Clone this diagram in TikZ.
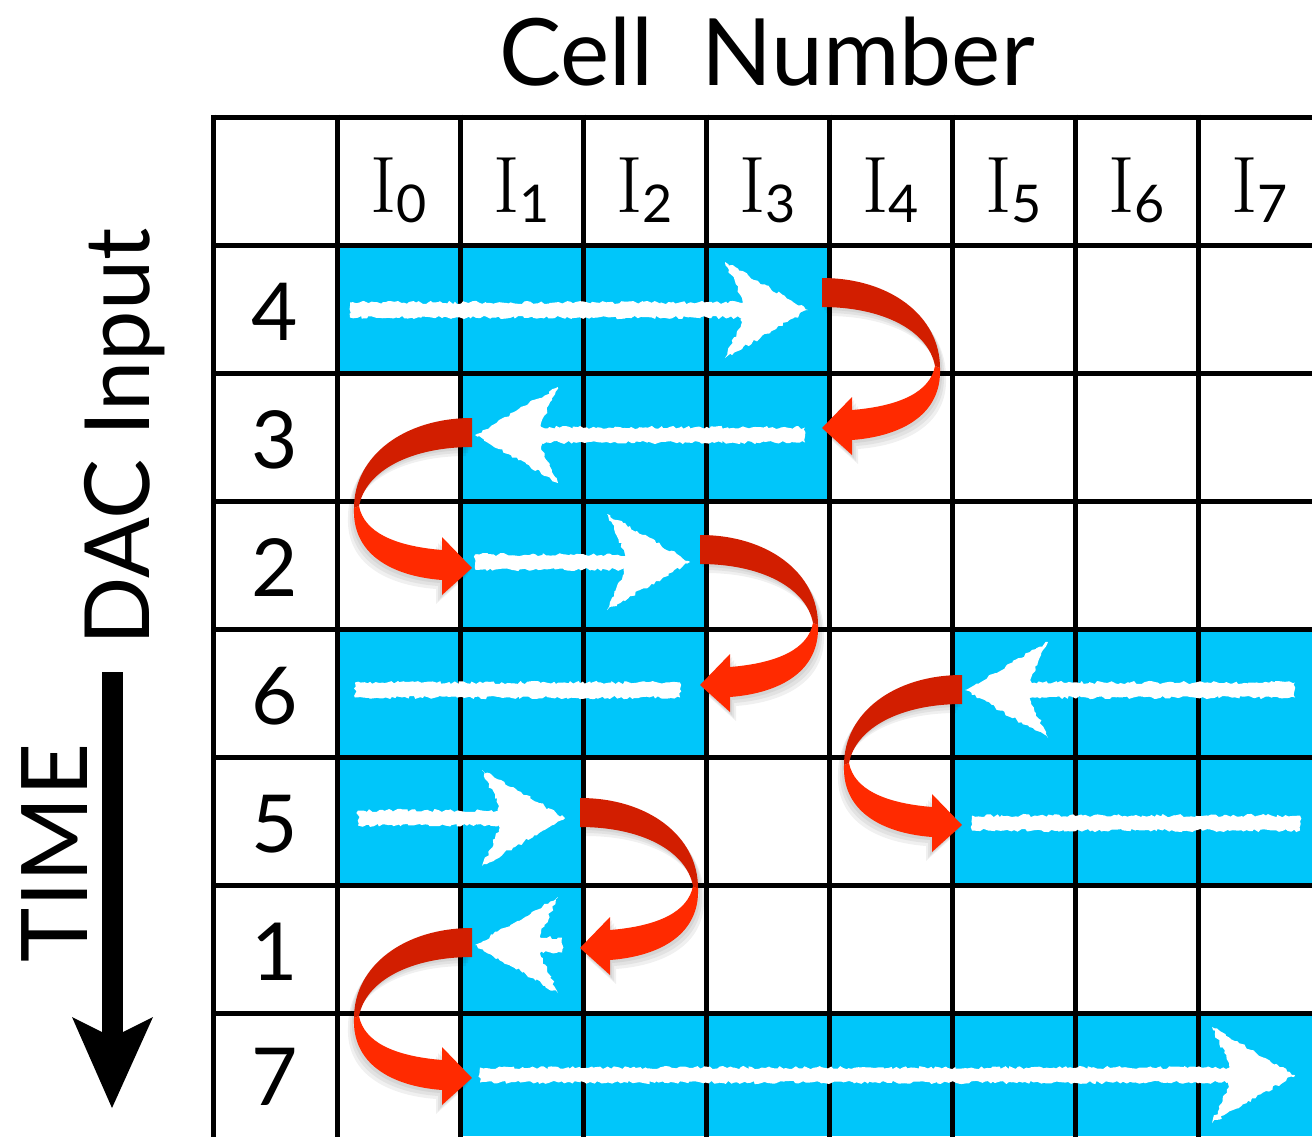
\documentclass[tikz,border=0pt]{standalone}
\usepackage{fontspec}
\newfontfamily\gill{Lato}
\usetikzlibrary{decorations.pathmorphing}
\definecolor{cellblue}{RGB}{0,198,250}
\definecolor{rdark}{RGB}{210,30,0}
\definecolor{rbright}{RGB}{255,42,0}
\tikzset{
  gridline/.style={line width=5pt,black},
  chalk/.style={fill=white,decorate,decoration={random steps,segment length=3pt,amplitude=1.6pt}},
  lbl/.style={anchor=base,inner sep=0pt},
}
\newcommand\ribbon[3]{%
\begin{scope}[shift={(#1,#2)},xscale=#3]
  \foreach \o in {2,4,6}{%
    \fill[black,opacity=0.06,shift={(\o,1.5*\o)}] (0,0) .. controls (68,0) and (118,38) .. (118,90) .. controls (120,135) and (82,158) .. (30,162) -- (30,177) -- (0,150) -- (30,119) -- (30,132) .. controls (78,128) and (108,114) .. (113,88) .. controls (106,52) and (60,29) .. (0,29) -- cycle;}
  \fill[rdark] (0,0) .. controls (68,0) and (118,38) .. (118,90) -- (113,88) .. controls (106,52) and (60,29) .. (0,29) -- cycle;
  \fill[rbright] (118,90) .. controls (120,135) and (82,158) .. (30,162) -- (30,132) .. controls (78,128) and (108,114) .. (113,88) -- cycle;
  \fill[rbright] (30,119) -- (0,150) -- (30,177) -- cycle;
\end{scope}}
\newcommand\chalkhead[3]{%
\begin{scope}[shift={(#1,#2)},xscale=#3]
  \path[chalk] (0,0) -- (-83,-48) -- (-66,-12) -- (-66,12) -- (-83,48) -- cycle;
\end{scope}}
\newcommand\shaft[3]{\path[chalk] (#1,#3-7.5) -- (#2,#3-7.5) -- (#2,#3+7.5) -- (#1,#3+7.5) -- cycle;}
\begin{document}
\begin{tikzpicture}[x=1pt,y=-1pt]
\pgfmathsetseed{7}
\useasboundingbox (0,0) rectangle (1312,1136);
% blue cells
\fill[cellblue] (337,245) rectangle (829,373);
\fill[cellblue] (460,373) rectangle (829,501);
\fill[cellblue] (460,501) rectangle (706,629);
\fill[cellblue] (337,629) rectangle (706,757);
\fill[cellblue] (952,629) rectangle (1312,757);
\fill[cellblue] (337,757) rectangle (583,885);
\fill[cellblue] (952,757) rectangle (1312,885);
\fill[cellblue] (460,885) rectangle (583,1013);
\fill[cellblue] (460,1013) rectangle (1312,1136);
% grid
\foreach \y in {117,245,373,501,629,757,885,1013}{\draw[gridline] (213,\y) -- (1314,\y);}
\foreach \x in {213,337,460,583,706,829,952,1075,1198}{\draw[gridline] (\x,114.5) -- (\x,1138);}
% header
\foreach \i/\x in {0/398.5,1/521.5,2/644.5,3/767.5,4/890.5,5/1013.5,6/1136.5,7/1259.5}{
  \node[lbl] (h\i) at (\x,212) {{\fontsize{80}{80}\selectfont I}{\gill\fontsize{52}{52}\selectfont\raisebox{-10pt}{\i}}};}
% row labels
\foreach \n/\v/\y in {1/4/309,2/3/437,3/2/565,4/6/693,5/5/821,6/1/949,7/7/1074}{
  \node[lbl] (r\n) at (275,\y+31) {\gill\fontsize{80}{80}\selectfont \v};}
% titles
\node[lbl] (cell) at (767,85) {\gill\fontsize{93}{93}\selectfont Cell\ \ Number};
\node[lbl,rotate=90] (dac) at (149,437) {\gill\fontsize{90}{90}\selectfont DAC Input};
\node[lbl,rotate=90] (time) at (87,853) {\gill\fontsize{92}{92}\selectfont TIME};
% time arrow
\fill (102,672) rectangle (123,1033);
\fill (72,1017) -- (102,1032) -- (123,1032) -- (153,1017) -- (112,1108) -- cycle;
% chalk arrows
\shaft{350}{750}{310} \chalkhead{808}{310}{1}
\shaft{805}{520}{435} \chalkhead{475}{435}{-1}
\shaft{475}{640}{562} \chalkhead{690}{562}{1}
\shaft{355}{680}{690}
\shaft{1295}{1010}{690} \chalkhead{965}{690}{-1}
\shaft{358}{515}{818} \chalkhead{565}{818}{1}
\shaft{972}{1300}{823}
\shaft{562}{520}{945} \chalkhead{475}{945}{-1}
\shaft{480}{1245}{1075} \chalkhead{1295}{1075}{1}
% red ribbons
\ribbon{822}{278}{1}
\ribbon{472}{418}{-1}
\ribbon{700}{535}{1}
\ribbon{962}{675}{-1}
\ribbon{580}{798}{1}
\ribbon{472}{928}{-1}
\end{tikzpicture}
\end{document}
